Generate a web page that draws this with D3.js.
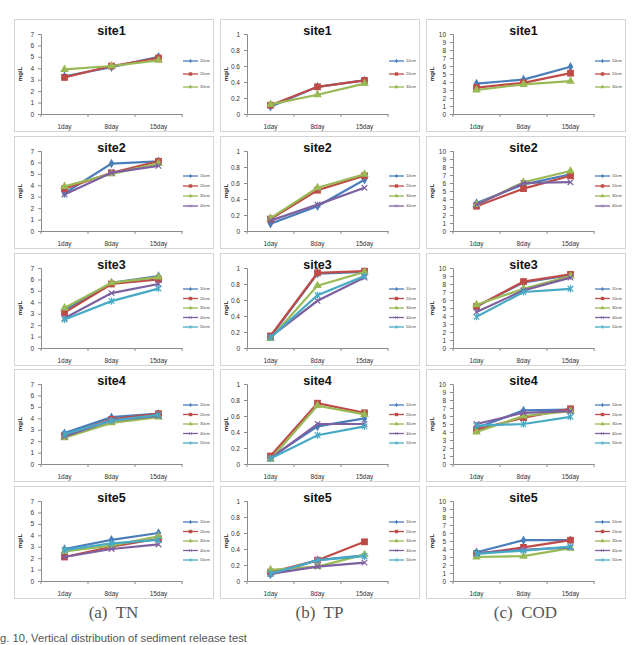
<!DOCTYPE html>
<html>
<head>
<meta charset="utf-8">
<script src="https://cdn.jsdelivr.net/npm/d3@7"></script>
<style>
  body { margin: 0; background: #fff; }
  svg { display: block; }
</style>
</head>
<body>
<div id="chart"></div>
<script>
// categories
const days = ["1day", "8day", "15day"];
const depths = ["10cm", "20cm", "30cm", "40cm", "50cm"];
const sites = ["site1", "site2", "site3", "site4", "site5"];
const panelLabels = ["(a)  TN", "(b)  TP", "(c)  COD"];

// y axis ranges per column (TN, TP, COD)
const yMax = [7, 1, 10];
const yStep = [1, 0.2, 1];

// values: [site][depth][day]
const tnValues = [
  [[3.3, 4.1, 5.0], [3.2, 4.2, 4.9], [3.9, 4.2, 4.7]],
  [[3.3, 5.9, 6.1], [3.7, 5.1, 6.1], [3.9, 5.0, 5.9], [3.2, 5.1, 5.7]],
  [[3.3, 5.7, 6.3], [3.1, 5.6, 6.0], [3.5, 5.7, 6.2], [2.6, 4.8, 5.6], [2.5, 4.1, 5.2]],
  [[2.7, 4.1, 4.4], [2.5, 3.9, 4.4], [2.3, 3.6, 4.1], [2.4, 3.8, 4.2], [2.6, 3.8, 4.3]],
  [[2.8, 3.6, 4.2], [2.1, 3.0, 3.7], [2.6, 3.1, 3.9], [2.1, 2.8, 3.2], [2.7, 3.3, 3.6]]
];
const tpValues = [
  [[0.09, 0.34, 0.42], [0.11, 0.34, 0.42], [0.12, 0.24, 0.38]],
  [[0.09, 0.31, 0.64], [0.15, 0.51, 0.69], [0.16, 0.54, 0.71], [0.13, 0.33, 0.54]],
  [[0.14, 0.93, 0.95], [0.15, 0.94, 0.96], [0.12, 0.78, 0.95], [0.14, 0.59, 0.88], [0.13, 0.66, 0.90]],
  [[0.08, 0.47, 0.57], [0.10, 0.76, 0.64], [0.06, 0.73, 0.62], [0.07, 0.50, 0.50], [0.07, 0.36, 0.47]],
  [[0.08, 0.26, 0.32], [0.11, 0.26, 0.49], [0.14, 0.18, 0.33], [0.09, 0.18, 0.23], [0.09, 0.26, 0.31]]
];
const codValues = [
  [[3.8, 4.3, 5.9], [3.3, 3.9, 5.1], [3.0, 3.7, 4.1]],
  [[3.5, 5.8, 7.1], [3.1, 5.3, 6.9], [3.3, 6.1, 7.5], [3.3, 6.0, 6.1]],
  [[5.2, 8.2, 9.1], [5.2, 8.3, 9.2], [5.4, 7.4, 9.0], [4.5, 7.2, 8.8], [3.9, 7.0, 7.4]],
  [[4.5, 6.7, 6.8], [4.3, 5.8, 6.9], [4.0, 6.0, 6.6], [5.0, 6.4, 6.6], [4.8, 5.0, 5.9]],
  [[3.6, 5.1, 5.1], [3.4, 4.2, 5.1], [3.0, 3.1, 4.1], [3.5, 3.9, 4.2], [3.4, 3.8, 4.3]]
];

const width = 638;
const height = 645;

const colors = ["#4a7ebb", "#be4b48", "#98b954", "#7d60a0", "#46aac5"];
const markers = [
  d3.symbol(d3.symbolDiamond, 26)(),
  d3.symbol(d3.symbolSquare, 46)(),
  d3.symbol(d3.symbolTriangle, 32)(),
  "M-2.8,-2.8L2.8,2.8M-2.8,2.8L2.8,-2.8",
  "M-2.8,-2.8L2.8,2.8M-2.8,2.8L2.8,-2.8M0,-3.5L0,3.5"
];

const svg = d3.select("#chart")
  .append("svg")
    .attr("width", width)
    .attr("height", height)
    .attr("viewBox", `0 0 ${width} ${height}`);

// panel frame positions
const colX = [14, 220, 426];
const rowY = [19, 136, 253, 369, 486];
const boxW = 199;
const boxH = 112;
const plot = {left: 27, right: 168, top: 15, bottom: 95};

const allValues = [tnValues, tpValues, codValues];

function drawPanel(col, row) {
  const data = allValues[col][row];
  const g = svg.append("g")
    .attr("transform", `translate(${colX[col]},${rowY[row]})`);

  g.append("rect")
    .attr("x", 0.5).attr("y", 0.5)
    .attr("width", boxW).attr("height", boxH)
    .attr("fill", "#fff")
    .attr("stroke", "#d4d4d4");

  const x = d3.scaleBand().domain(days).range([plot.left, plot.right]);
  const y = d3.scaleLinear().domain([0, yMax[col]]).range([plot.bottom, plot.top]);

  // title
  g.append("text")
    .attr("x", (plot.left + plot.right) / 2)
    .attr("y", 16)
    .attr("text-anchor", "middle")
    .style("font-family", "Liberation Sans, Arial, sans-serif")
    .style("font-weight", "bold")
    .style("font-size", "12.5px")
    .attr("fill", "#111")
    .text(sites[row]);

  // y axis
  const ticks = d3.range(0, yMax[col] + yStep[col] / 2, yStep[col]);
  const yAxis = g.append("g")
    .attr("transform", `translate(${plot.left},0)`)
    .call(d3.axisLeft(y).tickValues(ticks).tickSize(3).tickPadding(4)
      .tickFormat(d => +d.toFixed(1)));
  yAxis.select(".domain").attr("stroke", "#8c8c8c");
  yAxis.selectAll(".tick line").attr("stroke", "#8c8c8c");
  yAxis.selectAll(".tick text")
    .style("font-family", "Liberation Sans, Arial, sans-serif")
    .style("font-size", "6.5px")
    .attr("fill", "#333");

  // x axis
  const xAxis = g.append("g")
    .attr("transform", `translate(0,${plot.bottom})`)
    .call(d3.axisBottom(x).tickSize(0).tickPadding(10));
  xAxis.select(".domain").attr("stroke", "#8c8c8c");
  xAxis.selectAll(".tick text")
    .style("font-family", "Liberation Sans, Arial, sans-serif")
    .style("font-size", "6.5px")
    .attr("fill", "#333");
  // category boundary ticks
  xAxis.selectAll(".bound")
    .data(days.map(d => x(d)).concat([plot.right]))
    .join("line")
    .attr("class", "bound")
    .attr("x1", d => d).attr("x2", d => d)
    .attr("y1", 0).attr("y2", 3)
    .attr("stroke", "#8c8c8c");

  // y label
  g.append("text")
    .attr("transform", `translate(8,${(plot.top + plot.bottom) / 2}) rotate(-90)`)
    .attr("text-anchor", "middle")
    .style("font-family", "Liberation Sans, Arial, sans-serif")
    .style("font-weight", "bold")
    .style("font-size", "6px")
    .attr("fill", "#222")
    .text("mg/L");

  const line = d3.line()
    .x((d, i) => x(days[i]) + x.bandwidth() / 2)
    .y(d => y(d));

  data.forEach((series, k) => {
    g.append("path")
      .attr("d", line(series))
      .attr("fill", "none")
      .attr("stroke", colors[k])
      .attr("stroke-width", 2.2);

    g.selectAll(".m" + k)
      .data(series)
      .join("path")
      .attr("class", "m" + k)
      .attr("transform", (d, i) => `translate(${x(days[i]) + x.bandwidth() / 2},${y(d)})`)
      .attr("d", markers[k])
      .attr("fill", k < 3 ? colors[k] : "none")
      .attr("stroke", colors[k])
      .attr("stroke-width", k < 3 ? 0 : 1.2);
  });

  // legend
  const n = data.length;
  const spacing = n === 3 ? 13 : (n === 4 ? 10 : 9.5);
  const mid = (plot.top + plot.bottom) / 2;
  const legend = g.selectAll(".legend")
    .data(depths.slice(0, n))
    .join("g")
    .attr("transform", (d, i) => `translate(169,${mid + (i - (n - 1) / 2) * spacing})`);
  legend.append("line")
    .attr("x1", 0).attr("x2", 15)
    .attr("stroke", (d, i) => colors[i])
    .attr("stroke-width", 1.3);
  legend.append("path")
    .attr("transform", "translate(7.5,0) scale(0.5)")
    .attr("d", (d, i) => markers[i])
    .attr("fill", (d, i) => i < 3 ? colors[i] : "none")
    .attr("stroke", (d, i) => colors[i])
    .attr("stroke-width", (d, i) => i < 3 ? 0 : 1.2);
  legend.append("text")
    .attr("x", 17)
    .attr("dy", "0.35em")
    .style("font-family", "Liberation Sans, Arial, sans-serif")
    .style("font-size", "4px")
    .attr("fill", "#444")
    .text(d => d);
}

for (let c = 0; c < 3; c++) {
  for (let r = 0; r < 5; r++) {
    drawPanel(c, r);
  }
}

// column captions
svg.selectAll(".caption")
  .data(panelLabels)
  .join("text")
  .attr("class", "caption")
  .attr("x", (d, i) => colX[i] + boxW / 2)
  .attr("y", 618)
  .attr("text-anchor", "middle")
  .style("font-family", "Liberation Serif, DejaVu Serif, serif")
  .style("font-size", "17px")
  .style("white-space", "pre")
  .attr("fill", "#555")
  .text(d => d);

svg.append("text")
  .attr("x", 0)
  .attr("y", 642)
  .style("font-family", "Liberation Sans, Arial, sans-serif")
  .style("font-size", "11.2px")
  .attr("fill", "#555")
  .text("g. 10, Vertical distribution of sediment release test");
</script>
</body>
</html>
